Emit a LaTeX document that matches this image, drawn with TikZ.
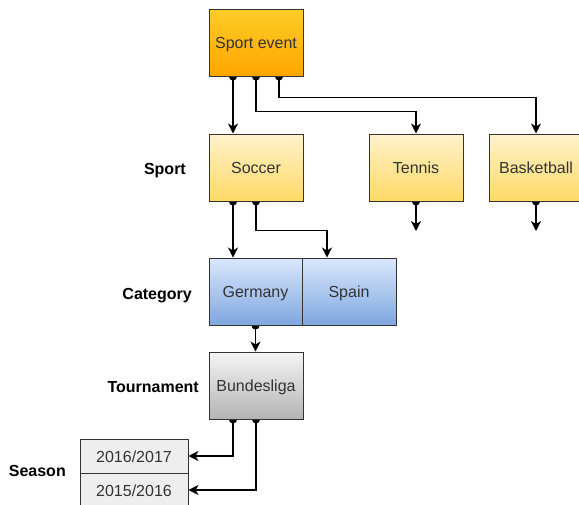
\documentclass[tikz,border=0pt]{standalone}
\usepackage{fontspec}
\setmainfont{Liberation Sans}
\usepackage{xcolor}
\usepackage{tikz}
\usetikzlibrary{arrows.meta,backgrounds}

\definecolor{evtop}{HTML}{FFCD28}
\definecolor{evbot}{HTML}{FFA500}
\definecolor{sptop}{HTML}{FFF2CC}
\definecolor{spbot}{HTML}{FFD966}
\definecolor{catop}{HTML}{DAE8FC}
\definecolor{cabot}{HTML}{7EA6E0}
\definecolor{totop}{HTML}{F5F5F5}
\definecolor{tobot}{HTML}{B3B3B3}
\definecolor{sefill}{HTML}{EEEEEE}
\definecolor{ink}{HTML}{333333}

\tikzset{
    box/.style={draw=ink, line width=1pt, minimum width=94pt, minimum height=67pt,
        inner sep=0pt, text=ink, text height=12pt, text depth=0pt,
        font=\fontsize{16}{19}\selectfont},
    eventbox/.style={box, top color=evtop, bottom color=evbot},
    sportbox/.style={box, top color=sptop, bottom color=spbot},
    catbox/.style={box, top color=catop, bottom color=cabot},
    tourbox/.style={box, top color=totop, bottom color=tobot},
    seasonbox/.style={box, fill=sefill, minimum width=108pt, minimum height=34pt},
    level/.style={anchor=base east, inner sep=0pt, font=\bfseries\fontsize{16}{19}\selectfont},
    link/.style={line width=1.3pt, {Circle[length=8pt]}-{Stealth[length=10pt,width=10pt,inset=3pt]},
        shorten <=-4pt}
}

\begin{document}
\begin{tikzpicture}[x=1pt, y=-1pt]
        \useasboundingbox (0,0) rectangle (579,504);
        \node[eventbox] (Sport-Event) at (256,42.5) {Sport event};
        \node[sportbox] (Soccer) at (256,167.5) {Soccer};
        \node[sportbox] (Tennis) at (416,167.5) {Tennis};
        \node[sportbox] (Basketball) at (536,167.5) {Basketball};
        \node[catbox, minimum width=93pt] (Germany) at (255.5,291.5) {Germany};
        \node[catbox] (Spain) at (349,291.5) {Spain};
        \node[tourbox] (Bundesliga) at (256,385.5) {Bundesliga};
        \node[seasonbox] (Season-2016) at (134,456) {2016/2017};
        \node[seasonbox] (Season-2015) at (134,490) {2015/2016};
        \coordinate (Tennis-Out) at (416,231);
        \coordinate (Basketball-Out) at (536,231);

        \node[level] (Sport-Label) at (186,174) {Sport};
        \node[level] (Category-Label) at (192,299) {Category};
        \node[level] (Tournament-Label) at (199,392) {Tournament};
        \node[level] (Season-Label) at (66,476) {Season};

        \begin{scope}[on background layer]
        \draw[link] ([xshift=-23pt]Sport-Event.south) -- ([xshift=-23pt]Soccer.north);
        \draw[link] (Sport-Event.south) -- ++(0,35) -| (Tennis.north);
        \draw[link] ([xshift=23pt]Sport-Event.south) -- ++(0,21) -| (Basketball.north);
        \draw[link] (Tennis.south) -- (Tennis-Out);
        \draw[link] (Basketball.south) -- (Basketball-Out);
        \draw[link] ([xshift=-23pt]Soccer.south) -- ([xshift=-23pt]Soccer.south |- Germany.north);
        \draw[link] (Soccer.south) -- ++(0,29) -| ([xshift=-22pt]Spain.north);
        \draw[link] (Germany.south) -- (Germany.south |- Bundesliga.north);
        \draw[link] ([xshift=-23pt]Bundesliga.south) |- (Season-2016.east);
        \draw[link] (Bundesliga.south) |- (Season-2015.east);
        \end{scope}
    \end{tikzpicture}
\end{document}
